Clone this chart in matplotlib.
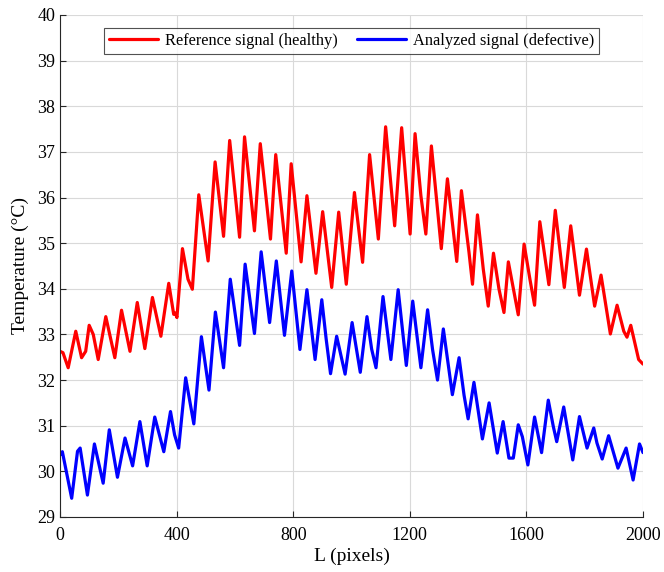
import matplotlib
matplotlib.use("Agg")
import matplotlib.pyplot as plt

plt.rcParams["font.family"] = ["Liberation Serif", "DejaVu Serif"]

# Reference signal (healthy): positions along L and temperatures
L_ref = [0, 10, 28, 54, 74, 88, 100, 114, 131, 157, 188, 211, 240, 265, 291, 317,
         346, 373, 390, 396, 401, 420, 439, 454, 476, 508, 532, 561, 582, 616, 633,
         667, 687, 722, 740, 776, 793, 827, 847, 878, 901, 932, 956, 982, 1010,
         1038, 1062, 1092, 1117, 1148, 1172, 1201, 1218, 1238, 1255, 1274, 1308,
         1329, 1361, 1377, 1403, 1415, 1432, 1452, 1469, 1487, 1506, 1523, 1538,
         1572, 1592, 1612, 1628, 1646, 1677, 1699, 1730, 1752, 1782, 1806, 1834,
         1856, 1888, 1911, 1934, 1945, 1958, 1985, 2000]
T_ref = [32.63, 32.6, 32.27, 33.07, 32.49, 32.63, 33.2, 33.0, 32.45, 33.39, 32.49,
         33.53, 32.63, 33.7, 32.69, 33.81, 32.96, 34.12, 33.44, 33.47, 33.37, 34.88,
         34.21, 33.99, 36.06, 34.61, 36.78, 35.15, 37.25, 35.13, 37.33, 35.27, 37.18,
         35.09, 36.94, 34.78, 36.74, 34.59, 36.04, 34.34, 35.69, 34.03, 35.68, 34.10,
         36.11, 34.58, 36.94, 35.09, 37.55, 35.38, 37.53, 35.2, 37.4, 36.04, 35.2,
         37.13, 34.88, 36.41, 34.6, 36.15, 34.8, 34.1, 35.62, 34.43, 33.62, 34.78,
         33.99, 33.48, 34.59, 33.43, 34.98, 34.21, 33.64, 35.47, 34.09, 35.72, 34.03,
         35.38, 33.86, 34.87, 33.62, 34.3, 33.01, 33.64, 33.07, 32.94, 33.2, 32.45,
         32.35]

# Analyzed signal (defective)
L_def = [0, 8, 40, 60, 69, 94, 118, 148, 169, 197, 223, 249, 274, 299, 325, 356,
         379, 393, 407, 431, 459, 485, 511, 533, 561, 584, 616, 635, 667, 690, 719,
         742, 770, 795, 823, 847, 875, 898, 913, 928, 949, 978, 1002, 1030, 1053,
         1069, 1084, 1108, 1135, 1160, 1188, 1210, 1238, 1261, 1278, 1295, 1315,
         1346, 1369, 1386, 1400, 1420, 1449, 1472, 1500, 1520, 1540, 1555, 1572,
         1586, 1605, 1628, 1652, 1675, 1692, 1704, 1728, 1759, 1782, 1808, 1831,
         1842, 1860, 1882, 1914, 1942, 1966, 1988, 2000]
T_def = [30.36, 30.43, 29.41, 30.44, 30.51, 29.48, 30.6, 29.74, 30.91, 29.87, 30.73,
         30.12, 31.09, 30.12, 31.19, 30.43, 31.31, 30.8, 30.51, 32.05, 31.04, 32.95,
         31.78, 33.49, 32.27, 34.21, 32.76, 34.54, 33.02, 34.81, 33.26, 34.61, 32.98,
         34.39, 32.67, 33.98, 32.45, 33.76, 32.9, 32.14, 32.96, 32.13, 33.26, 32.17,
         33.39, 32.68, 32.27, 33.83, 32.45, 33.98, 32.32, 33.73, 32.27, 33.54, 32.67,
         32.0, 33.12, 31.68, 32.49, 31.67, 31.15, 31.95, 30.71, 31.5, 30.4, 31.09,
         30.29, 30.29, 31.02, 30.76, 30.14, 31.19, 30.41, 31.56, 30.99, 30.65, 31.41,
         30.25, 31.2, 30.51, 30.95, 30.62, 30.27, 30.78, 30.07, 30.51, 29.81, 30.6,
         30.41]

x_ticks = [0, 400, 800, 1200, 1600, 2000]
y_ticks = list(range(29, 41))

fig = plt.figure(figsize=(6.64, 5.72), dpi=100)
ax = fig.add_axes([0.0904, 0.0962, 0.8780, 0.8776])

ax.plot(L_ref, T_ref, color="#ff0000", lw=2.3, solid_joinstyle="round",
        solid_capstyle="round", label="Reference signal (healthy)")
ax.plot(L_def, T_def, color="#0000ff", lw=2.3, solid_joinstyle="round",
        solid_capstyle="round", label="Analyzed signal (defective)")

ax.set_xlim(0, 2000)
ax.set_ylim(29, 40)
ax.set_xticks(x_ticks)
ax.set_yticks(y_ticks)
ax.grid(True, color="#d9d9d9", lw=0.8)
ax.set_axisbelow(True)

for side in ["top", "right"]:
    ax.spines[side].set_visible(False)
for side in ["left", "bottom"]:
    ax.spines[side].set_color("#262626")
    ax.spines[side].set_linewidth(0.8)
ax.tick_params(direction="in", length=4, width=0.8, labelsize=13, colors="#262626",
               labelcolor="black")
ax.tick_params(axis="x", pad=7)

ax.set_xlabel("L (pixels)", fontsize=14, labelpad=3)
ax.set_ylabel("Temperature (°C)", fontsize=14, labelpad=6)

leg = ax.legend(loc="upper center", ncol=2, fontsize=11.8, frameon=True, fancybox=False,
                edgecolor="#262626", handlelength=3.0, handletextpad=0.4,
                columnspacing=1.2, borderpad=0.3, borderaxespad=0.8,
                bbox_to_anchor=(0.5, 1.0))
leg.get_frame().set_linewidth(0.8)

fig.savefig("out.png", dpi=100)
